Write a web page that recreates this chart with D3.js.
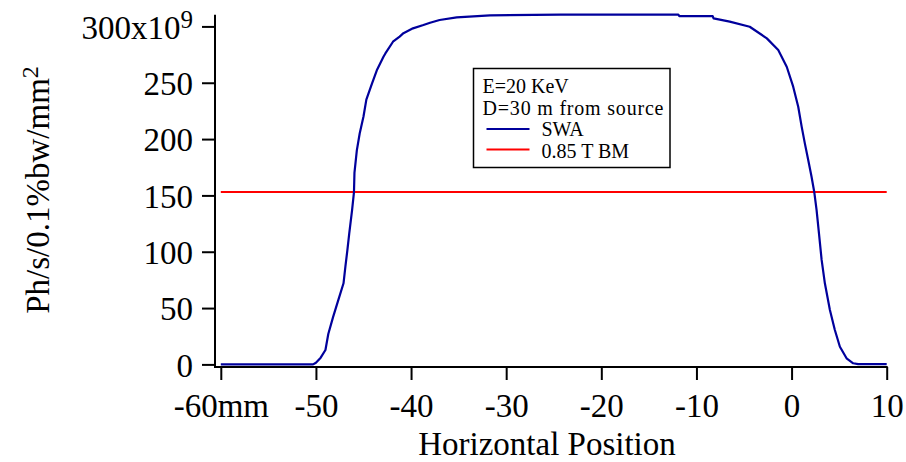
<!DOCTYPE html>
<html>
<head>
<meta charset="utf-8">
<script src="https://cdn.jsdelivr.net/npm/d3@7"></script>
<style>
  html, body { margin: 0; padding: 0; background: #fff; }
  svg text { font-family: "Liberation Serif", "Times New Roman", serif; fill: #000; }
</style>
</head>
<body>
<svg id="chart" width="906" height="462"></svg>
<script>
// Horizontal flux profile at 30 m from the source, E = 20 keV
const positionMm = [-60, -50.3, -50.0, -49.5, -49.0, -48.7, -48.2, -47.65, -47.1, -46.9, -46.7, -46.5,
  -46.2, -46.0, -45.95, -45.7, -45.4, -45.0, -44.7, -44.1, -43.6, -42.9, -42.7, -41.9, -41.2, -40.8,
  -39.8, -38.7, -38.0, -37.0, -35.2, -31.7, -24.3, -11.9, -11.8, -8.3, -8.2, -6.5, -4.4, -2.6, -1.4,
  -0.5, 0.17, 0.7, 1.06, 1.4, 1.75, 2.1, 2.38, 2.63, 2.88, 3.16, 3.5, 4.03, 4.55, 5.08, 5.78, 6.48, 7.0, 10];
const fluxSWA = [0, 0, 1.5, 6, 12.8, 27, 42, 57, 72, 87, 101, 116,
  137, 153, 170, 190, 205, 220, 235, 249.5, 261, 273, 276, 286.4, 291, 294,
  298.3, 301.2, 303.3, 305.7, 308, 309.8, 310.4, 310.4, 309.2, 309.2, 307.2, 304.2, 299.7, 289.4, 279,
  264, 246.5, 228.7, 211, 196, 181.4, 166.6, 153.3, 137, 116.4, 92.7, 72, 48.3, 30.5, 15.7, 5.4, 1, 0.3, 0.3];
// 0.85 T bending magnet flux (constant across the range)
const fluxBM = 153;

const xTicks = [-60, -50, -40, -30, -20, -10, 0, 10];
const xTickLabels = ["-60mm", "-50", "-40", "-30", "-20", "-10", "0", "10"];
const yTicks = [0, 50, 100, 150, 200, 250, 300];
const yTickLabels = ["0", "50", "100", "150", "200", "250", "300x10"];

const legendInfo = ["E=20 KeV", "D=30 m from source"];
const seriesNames = ["SWA", "0.85 T BM"];
const seriesColors = ["#00009c", "#ff0000"];

const svg = d3.select("#chart");

const x = d3.scaleLinear().domain([-60, 10]).range([220.8, 886.7]);
const y = d3.scaleLinear().domain([0, 310.4]).range([364.4, 14.7]);

const axisX = 215;   // y-axis line position (offset from plot area)
const axisY = 367;   // x-axis line position

// Y axis
const gy = svg.append("g").attr("transform", `translate(${axisX},0)`)
  .call(d3.axisLeft(y).tickValues(yTicks).tickSize(13).tickSizeOuter(0)
    .tickFormat((d, i) => yTickLabels[i]));
gy.select(".domain").remove();
gy.selectAll(".tick line").attr("stroke", "#000").attr("stroke-width", 2);
gy.selectAll(".tick text")
  .attr("x", -22).attr("dy", "0.36em")
  .attr("font-size", 33).attr("font-family", "Liberation Serif");
// exponent on the top label
gy.selectAll(".tick text").filter((d) => d === 300)
  .append("tspan").attr("dy", "-0.45em").attr("font-size", 25).text("9");

// X axis
const gx = svg.append("g").attr("transform", `translate(0,${axisY})`)
  .call(d3.axisBottom(x).tickValues(xTicks).tickSize(13).tickSizeOuter(0)
    .tickFormat((d, i) => xTickLabels[i]));
gx.select(".domain").remove();
gx.selectAll(".tick line").attr("stroke", "#000").attr("stroke-width", 2);
gx.selectAll(".tick text")
  .attr("y", 49.7).attr("dy", 0)
  .attr("font-size", 33).attr("font-family", "Liberation Serif");

// Axis lines
svg.append("line").attr("x1", axisX).attr("x2", axisX)
  .attr("y1", y.range()[1]).attr("y2", axisY + 1)
  .attr("stroke", "#000").attr("stroke-width", 2);
svg.append("line").attr("x1", axisX - 1).attr("x2", x.range()[1] + 1)
  .attr("y1", axisY).attr("y2", axisY)
  .attr("stroke", "#000").attr("stroke-width", 2);

// Axis titles
svg.append("text")
  .attr("x", 547).attr("y", 455)
  .attr("text-anchor", "middle").attr("font-size", 33)
  .text("Horizontal Position");

const yTitle = svg.append("text")
  .attr("transform", "translate(49,190) rotate(-90)")
  .attr("text-anchor", "middle").attr("font-size", 33);
yTitle.append("tspan").text("Ph/s/0.1%bw/mm");
yTitle.append("tspan").attr("dy", "-0.45em").attr("font-size", 24).text("2");

// Bending magnet level
svg.append("line")
  .attr("x1", x(-60)).attr("x2", x(10))
  .attr("y1", y(fluxBM)).attr("y2", y(fluxBM))
  .attr("stroke", seriesColors[1]).attr("stroke-width", 2);

// SWA profile
const profile = positionMm.map((p, i) => [p, fluxSWA[i]]);
svg.append("path")
  .datum(profile)
  .attr("fill", "none")
  .attr("stroke", seriesColors[0])
  .attr("stroke-width", 2.2)
  .attr("stroke-linejoin", "round")
  .attr("d", d3.line().x(d => x(d[0])).y(d => y(d[1])));

// Legend
const lg = svg.append("g").attr("transform", "translate(473.5,68.5)");
lg.append("rect").attr("width", 196.5).attr("height", 99)
  .attr("fill", "#fff").attr("stroke", "#000").attr("stroke-width", 1.5);
legendInfo.forEach((t, i) => {
  lg.append("text").attr("x", 9).attr("y", 24.5 + i * 21.7)
    .attr("font-size", 20).attr("textLength", i === 1 ? 181 : null).text(t);
});
seriesNames.forEach((name, i) => {
  const yy = 60.5 + i * 20.5;
  lg.append("line").attr("x1", 13).attr("x2", 56)
    .attr("y1", yy).attr("y2", yy)
    .attr("stroke", seriesColors[i]).attr("stroke-width", 2);
  lg.append("text").attr("x", 68).attr("y", 67 + i * 22.2)
    .attr("font-size", 20).text(name);
});
</script>
</body>
</html>
